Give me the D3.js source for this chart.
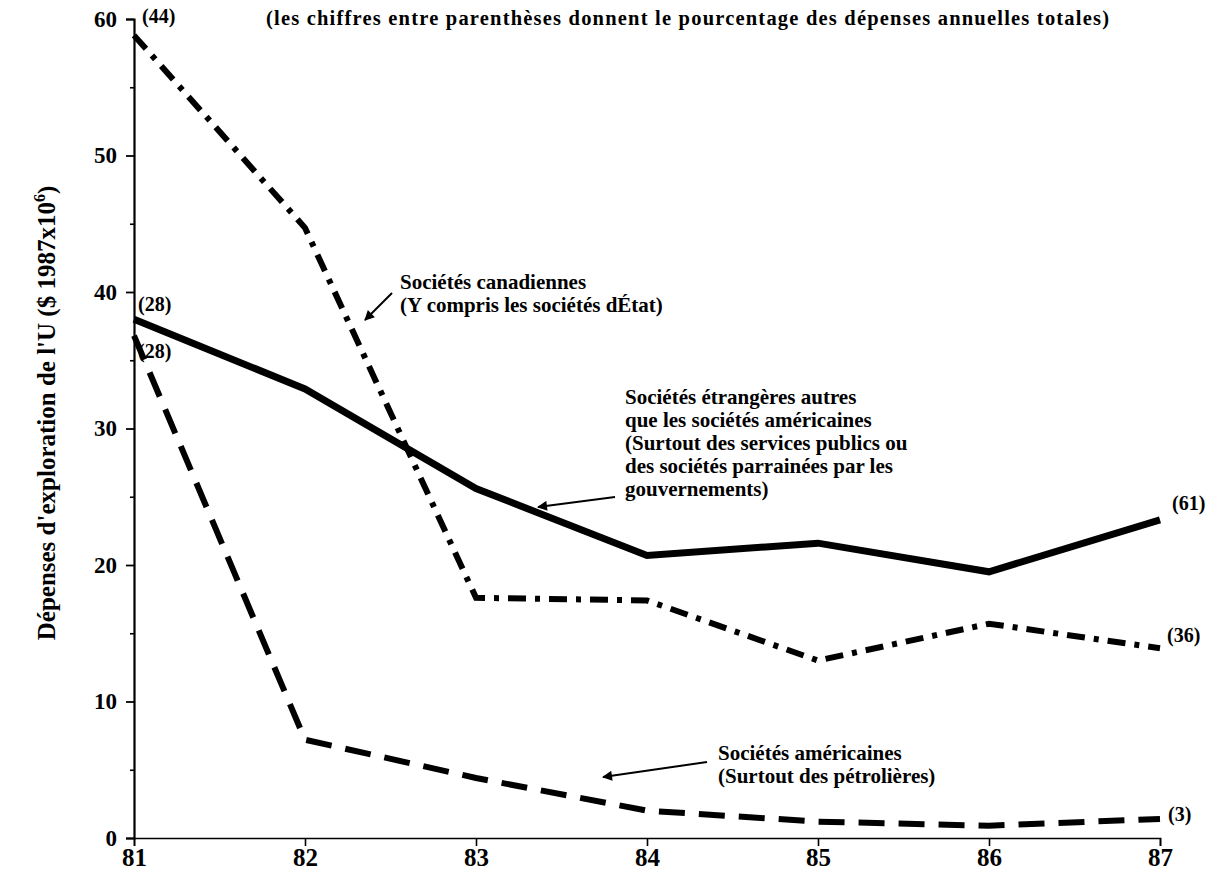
<!DOCTYPE html>
<html>
<head>
<meta charset="utf-8">
<script src="https://cdn.jsdelivr.net/npm/d3@7"></script>
<style>
  body { margin: 0; background: #fff; }
  text { font-family: "Liberation Serif", "Times New Roman", serif; font-weight: bold; fill: #000; }
</style>
</head>
<body>
<svg id="chart" width="1212" height="877"></svg>
<script>
// years on the x axis
var years = [81, 82, 83, 84, 85, 86, 87];
// U exploration spending, $ 1987 x 10^6
var etrangeres = [38.0, 32.9, 25.6, 20.7, 21.6, 19.5, 23.3];
var canadiennes = [58.8, 44.7, 17.6, 17.4, 13.0, 15.7, 13.9];
var americaines = [36.8, 7.2, 4.4, 2.0, 1.2, 0.9, 1.4];
// share of total annual spending, first and last year
var pctEtrangeres = ["(28)", "(61)"];
var pctCanadiennes = ["(44)", "(36)"];
var pctAmericaines = ["(28)", "(3)"];
var yMajor = [0, 10, 20, 30, 40, 50, 60];
var yMinor = [5, 15, 25, 35, 45, 55];

var svg = d3.select("#chart");

var x = d3.scaleLinear().domain([81, 87]).range([134, 1160]);
var y = d3.scaleLinear().domain([0, 60]).range([838, 19]);

// axes
var xAxis = svg.append("g")
  .attr("transform", "translate(0," + y(0) + ")")
  .call(d3.axisBottom(x).tickValues(years).tickSize(8).tickSizeOuter(8).tickFormat(d3.format("d")));
xAxis.select(".domain").attr("stroke-width", 1.6);
xAxis.selectAll(".tick line").attr("stroke-width", 1.6);
xAxis.selectAll(".tick text").attr("y", 10).attr("font-size", 25);

var yAxis = svg.append("g")
  .attr("transform", "translate(" + x(81) + ",0)")
  .call(d3.axisLeft(y).tickValues(yMajor).tickSize(8).tickSizeOuter(8).tickPadding(9).tickFormat(d3.format("d")));
yAxis.select(".domain").attr("stroke-width", 2.2);
yAxis.selectAll(".tick line").attr("stroke-width", 1.8);
yAxis.selectAll(".tick text").attr("font-size", 23);

var yMinorAxis = svg.append("g")
  .attr("transform", "translate(" + x(81) + ",0)")
  .call(d3.axisLeft(y).tickValues(yMinor).tickSize(4).tickFormat(""));
yMinorAxis.select(".domain").remove();
yMinorAxis.selectAll(".tick line").attr("stroke-width", 1.6);

svg.selectAll(".domain, .tick line").attr("stroke", "#000");
svg.selectAll("g text").attr("fill", "#000").attr("font-family", null);

// y axis title
var yTitle = svg.append("text")
  .attr("transform", "translate(55,413) rotate(-90)")
  .attr("text-anchor", "middle")
  .attr("font-size", 25);
yTitle.append("tspan").text("Dépenses d'exploration de l'U ($ 1987x10");
yTitle.append("tspan").attr("font-size", 16).attr("dy", -10).text("6");
yTitle.append("tspan").attr("dy", 10).text(")");

// note at the top
svg.append("text")
  .attr("x", 266).attr("y", 25)
  .attr("font-size", 20.5)
  .attr("letter-spacing", 1.2)
  .text("(les chiffres entre parenthèses donnent le pourcentage des dépenses annuelles totales)");

// lines
var line = d3.line()
  .x(function(d, i) { return x(years[i]); })
  .y(function(d) { return y(d); });

var series = [
  { values: etrangeres, dash: null, width: 7 },
  { values: canadiennes, dash: "18,9,5,9", width: 6 },
  { values: americaines, dash: "26,14", width: 6 }
];

svg.selectAll(".serie")
  .data(series)
  .enter()
  .append("path")
    .attr("class", "serie")
    .attr("d", function(d) { return line(d.values); })
    .attr("fill", "none")
    .attr("stroke", "#000")
    .attr("stroke-width", function(d) { return d.width; })
    .attr("stroke-dasharray", function(d) { return d.dash; })
    .attr("stroke-linejoin", "miter");

// percentage labels at both ends
function pctLabel(txt, xv, yv, dx, dy, weight) {
  svg.append("text")
    .attr("x", x(xv) + dx).attr("y", y(yv) + dy)
    .attr("font-size", 20)
    .attr("font-weight", weight || "bold")
    .text(txt);
}
pctLabel(pctCanadiennes[0], 81, canadiennes[0], 8, -12);
pctLabel(pctEtrangeres[0], 81, etrangeres[0], 4, -8);
pctLabel(pctAmericaines[0], 81, americaines[0], 4, 22);
pctLabel(pctEtrangeres[1], 87, etrangeres[6], 12, -10);
pctLabel(pctCanadiennes[1], 87, canadiennes[6], 7, -6);
pctLabel(pctAmericaines[1], 87, americaines[6], 8, 2, "normal");

// annotations with arrows
svg.append("defs").append("marker")
  .attr("id", "head")
  .attr("viewBox", "0 0 10 10")
  .attr("refX", 9).attr("refY", 5)
  .attr("markerWidth", 14).attr("markerHeight", 10)
  .attr("markerUnits", "userSpaceOnUse")
  .attr("orient", "auto")
  .append("path").attr("d", "M0,0L10,5L0,10z").attr("fill", "#000");

function note(lines, tx, ty, x1, y1, x2, y2) {
  var t = svg.append("text").attr("x", tx).attr("y", ty).attr("font-size", 21);
  lines.forEach(function(l, i) {
    t.append("tspan").attr("x", tx).attr("dy", i === 0 ? 0 : 23).text(l);
  });
  svg.append("line")
    .attr("x1", x1).attr("y1", y1).attr("x2", x2).attr("y2", y2)
    .attr("stroke", "#000").attr("stroke-width", 2)
    .attr("marker-end", "url(#head)");
}

note(["Sociétés canadiennes", "(Y compris les sociétés dÉtat)"], 400, 289, 392, 293, 365, 320);
note(["Sociétés étrangères autres", "que les sociétés américaines",
      "(Surtout des services publics ou", "des sociétés parrainées par les",
      "gouvernements)"], 625, 404, 615, 497, 538, 507);
note(["Sociétés américaines", "(Surtout des pétrolières)"], 718, 760, 707, 762, 603, 777);
</script>
</body>
</html>
